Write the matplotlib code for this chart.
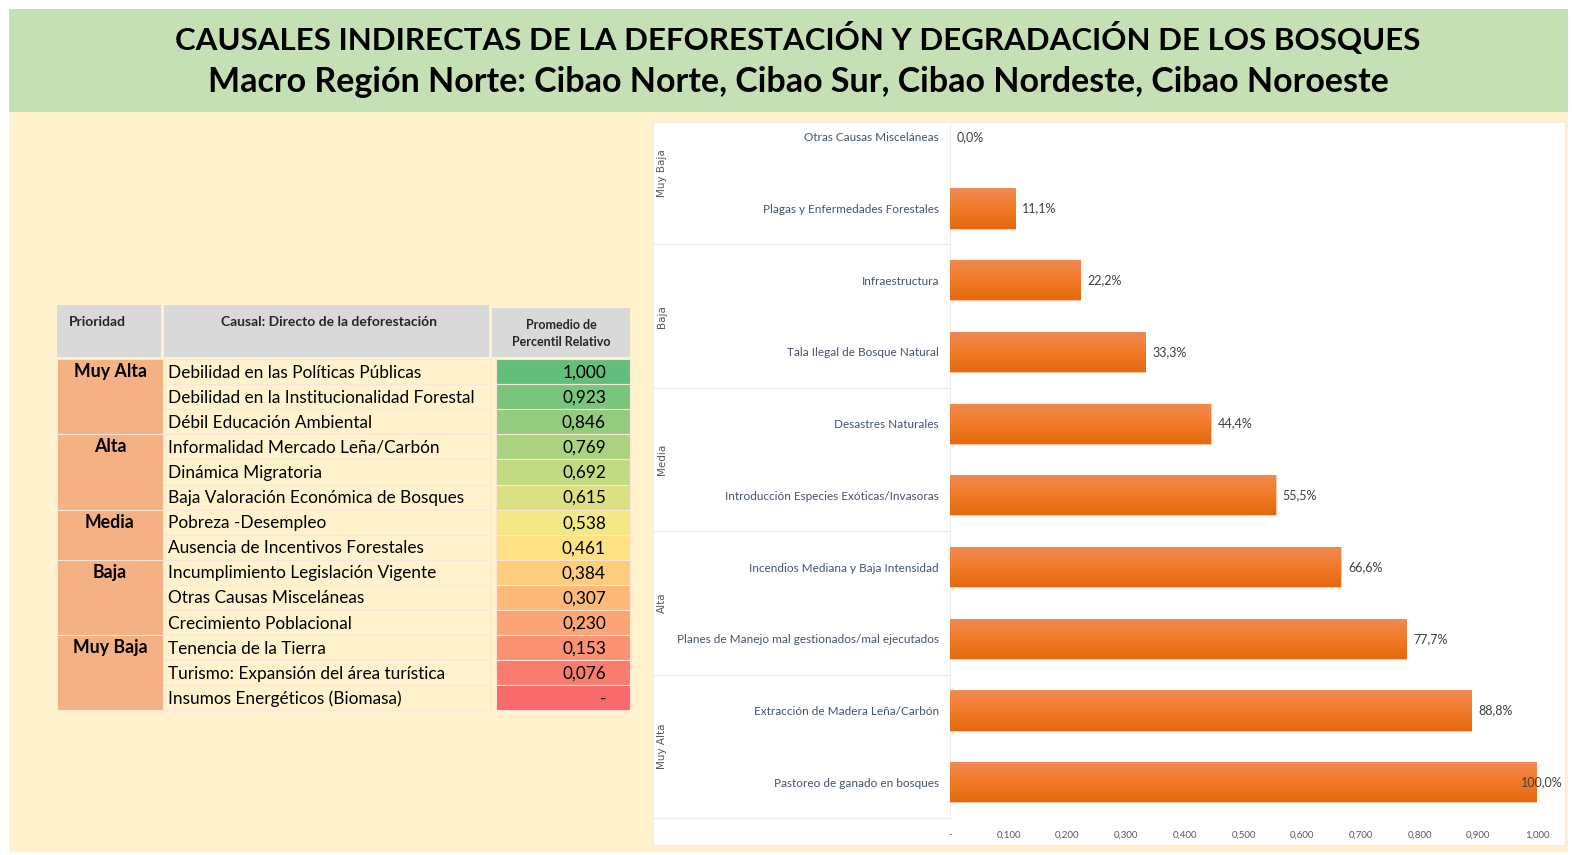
import numpy as np
import matplotlib
matplotlib.use('Agg')
import matplotlib.pyplot as plt
from matplotlib.patches import Rectangle
from matplotlib.colors import LinearSegmentedColormap

plt.rcParams['font.family'] = ['Lato', 'DejaVu Sans']

# ---- datos de la tabla
prioridades = ['Muy Alta', 'Alta', 'Media', 'Baja', 'Muy Baja']
filas_por_prioridad = [3, 3, 2, 3, 3]
causales_tabla = ['Debilidad en las Políticas Públicas',
                  'Debilidad en la Institucionalidad Forestal',
                  'Débil Educación Ambiental',
                  'Informalidad Mercado Leña/Carbón',
                  'Dinámica Migratoria',
                  'Baja Valoración Económica de Bosques',
                  'Pobreza -Desempleo',
                  'Ausencia de Incentivos Forestales',
                  'Incumplimiento Legislación Vigente',
                  'Otras Causas Misceláneas',
                  'Crecimiento Poblacional',
                  'Tenencia de la Tierra',
                  'Turismo: Expansión del área turística',
                  'Insumos Energéticos (Biomasa)']
valores_tabla = [1.000, 0.923, 0.846, 0.769, 0.692, 0.615, 0.538,
                 0.461, 0.384, 0.307, 0.230, 0.153, 0.076, 0.0]

# ---- datos del grafico (de arriba hacia abajo)
causales_graf = ['Otras Causas Misceláneas',
                 'Plagas y Enfermedades Forestales',
                 'Infraestructura',
                 'Tala Ilegal de Bosque Natural',
                 'Desastres Naturales',
                 'Introducción Especies Exóticas/Invasoras',
                 'Incendios Mediana y Baja Intensidad',
                 'Planes de Manejo mal gestionados/mal ejecutados',
                 'Extracción de Madera Leña/Carbón',
                 'Pastoreo de ganado en bosques']
valores_graf = [0.0, 0.111, 0.222, 0.333, 0.444, 0.555, 0.666, 0.777, 0.888, 1.0]
grupos_graf = ['Muy Baja', 'Baja', 'Media', 'Alta', 'Muy Alta']
ticks_x = [0.0, 0.1, 0.2, 0.3, 0.4, 0.5, 0.6, 0.7, 0.8, 0.9, 1.0]

W, H = 1572, 855
fig = plt.figure(figsize=(W / 100, H / 100), dpi=100)
fig.patch.set_facecolor('white')

bg = fig.add_axes([0, 0, 1, 1])
bg.set_xlim(0, W)
bg.set_ylim(H, 0)
bg.axis('off')

# fondos
bg.add_patch(Rectangle((9, 9), 1559, 103, color='#C5E0B4', lw=0))
bg.add_patch(Rectangle((9, 112), 1559, 740, color='#FFF2CC', lw=0))
bg.text(798, 38, 'CAUSALES INDIRECTAS DE LA DEFORESTACIÓN Y DEGRADACIÓN DE LOS BOSQUES',
        ha='center', va='center', fontsize=22.5, fontweight='bold', color='black')
bg.text(798, 82, 'Macro Región Norte: Cibao Norte, Cibao Sur, Cibao Nordeste, Cibao Noroeste',
        ha='center', va='center', fontsize=24.5, fontweight='bold', color='black')

# ---- tabla
cmap = LinearSegmentedColormap.from_list('escala', ['#F8696B', '#FFEB84', '#63BE7B'])
x0, x1, x2, x3 = 57, 163, 491, 630
top, row_h = 359, 25.1
gris = '#D9D9D9'
bg.add_patch(Rectangle((x0, 305), x1 - x0 - 2, 52, color=gris, lw=0))
bg.add_patch(Rectangle((x1 + 1, 305), x2 - x1 - 3, 52, color=gris, lw=0))
bg.add_patch(Rectangle((x2 + 1, 308), x3 - x2 - 1, 49, color=gris, lw=0))
bg.text(69, 322, 'Prioridad', ha='left', va='center', fontsize=10, fontweight='bold', color='#262626')
bg.text(329, 322, 'Causal: Directo de la deforestación', ha='center', va='center',
        fontsize=10, fontweight='bold', color='#262626')
bg.text(561, 333, 'Promedio de\nPercentil Relativo', ha='center', va='center',
        fontsize=9, fontweight='bold', color='#262626', linespacing=1.5)

fila = 0
for prio, n in zip(prioridades, filas_por_prioridad):
    y = top + fila * row_h
    bg.add_patch(Rectangle((x0, y), x1 - x0, n * row_h, facecolor='#F4B183',
                           edgecolor='#FBE5D6', lw=0.8))
    bg.text((x0 + x1) / 2, y + row_h / 2, prio, ha='center', va='center',
            fontsize=12.8, fontweight='bold', color='black')
    fila += n

for i, (nombre, v) in enumerate(zip(causales_tabla, valores_tabla)):
    y = top + i * row_h
    bg.add_patch(Rectangle((x1, y), x2 - x1, row_h, facecolor='#FFF2CC',
                           edgecolor='#FCE4D6', lw=0.8))
    bg.add_patch(Rectangle((496, y), x3 - 496, row_h, facecolor=cmap(v),
                           edgecolor='#FCE4D6', lw=0.8))
    bg.text(168, y + row_h / 2 + 1, nombre, ha='left', va='center', fontsize=12.4, color='black')
    etiqueta = '-' if v == 0 else f'{v:.3f}'.replace('.', ',')
    bg.text(606, y + row_h / 2 + 1, etiqueta, ha='right', va='center', fontsize=12.4, color='black')

# ---- grafico de barras
bg.add_patch(Rectangle((653, 122), 912, 723, facecolor='white', edgecolor='#EDEDED', lw=0.8))
bg.plot([950, 950], [122, 818], color='#EDEDED', lw=0.8)

ax = fig.add_axes([950 / W, 1 - 818 / H, (1537 - 950) / W, (818 - 101) / H])
ax.patch.set_alpha(0)
ypos = np.arange(len(causales_graf))
bars = ax.barh(ypos, valores_graf, height=0.56, color='#EE7A2E', edgecolor='#F8C9A8', lw=0.6)
ax.set_xlim(0, 1)
ax.set_ylim(len(causales_graf) - 0.5, -0.5)

grad = np.linspace(0, 1, 100).reshape(-1, 1)
gcmap = LinearSegmentedColormap.from_list('bar', ['#F08B52', '#F27A28', '#E4690F'])
for b in bars:
    if b.get_width() <= 0:
        b.set_visible(False)
        continue
    x, y, w, h = b.get_x(), b.get_y(), b.get_width(), b.get_height()
    im = ax.imshow(grad, cmap=gcmap, aspect='auto', extent=(x, x + w, y + h, y), zorder=2)
    im.set_clip_path(b)

for yv, v in zip(ypos, valores_graf):
    txt = f'{v * 100:.1f}%'.replace('.', ',')
    if v >= 1.0:
        ax.annotate(txt, (v, yv), xytext=(26, 0), textcoords='offset pixels',
                    ha='right', va='center', fontsize=9, color='#404040', zorder=5)
    else:
        ax.annotate(txt, (v, yv), xytext=(7, 0), textcoords='offset pixels',
                    ha='left', va='center', fontsize=9, color='#404040', zorder=5)

for s in ax.spines.values():
    s.set_visible(False)
ax.set_yticks(ypos)
ax.set_yticklabels(causales_graf, fontsize=8.5, color='#44546A')
ax.set_xticks(ticks_x)
ax.set_xticklabels(['-' if t == 0 else f'{t:.3f}'.replace('.', ',') for t in ticks_x],
                   fontsize=7, color='#595959')
ax.tick_params(length=0, axis='y', pad=8)
ax.tick_params(length=0, axis='x', pad=9)

# separadores y nombres de grupo
escala = (1537 - 950)
xl = (653 - 950) / escala
for g, nombre in enumerate(grupos_graf):
    yb = 2 * g + 1.5
    ax.plot([xl, 0], [yb, yb], color='#EDEDED', lw=1, clip_on=False)
    ax.text((662 - 950) / escala, 2 * g + 0.5, nombre, rotation=90, ha='center', va='center',
            fontsize=7.5, color='#595959', family='DejaVu Sans', clip_on=False)

fig.savefig('out.png', dpi=100)
